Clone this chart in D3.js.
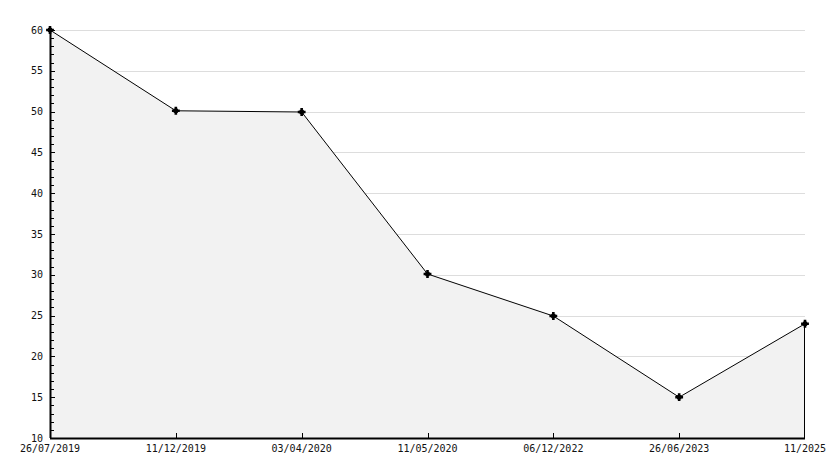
<!DOCTYPE html>
<html>
<head>
<meta charset="utf-8">
<script src="https://cdn.jsdelivr.net/npm/d3@7"></script>
<style>
  body { margin: 0; background: #fff; }
  text { font-family: "DejaVu Sans Mono", monospace; font-size: 10px; fill: #111; }
</style>
</head>
<body>
<div id="chart"></div>
<script>
const dates = ["26/07/2019", "11/12/2019", "03/04/2020", "11/05/2020", "06/12/2022", "26/06/2023", "11/2025"],
    values = [60, 50.1, 49.95, 30.1, 24.95, 15, 24],
    yTicks = [10, 15, 20, 25, 30, 35, 40, 45, 50, 55, 60];

const margin = {top: 30, right: 29, bottom: 30, left: 50},
    width = 834 - margin.left - margin.right,
    height = 468 - margin.top - margin.bottom;

const svg = d3.select("#chart").append("svg")
    .attr("width", 834)
    .attr("height", 468)
    .append("g")
    .attr("transform", "translate(" + margin.left + "," + margin.top + ")");

const x = d3.scalePoint()
    .domain(dates)
    .range([0, width]);

const y = d3.scaleLinear()
    .domain([10, 60])
    .range([height, 0]);

// lignes de grille horizontales
svg.append("g")
    .selectAll("line")
    .data(yTicks.filter(d => d > 10))
    .enter().append("line")
    .attr("x1", 0)
    .attr("x2", width)
    .attr("y1", d => Math.round(y(d)) + 0.5)
    .attr("y2", d => Math.round(y(d)) + 0.5)
    .attr("stroke", "#dddddd");

const pts = dates.map((d, i) => [x(d), y(values[i])]);

svg.append("path")
    .datum(pts)
    .attr("fill", "#f2f2f2")
    .attr("stroke", "none")
    .attr("d", d3.area().x(d => d[0]).y0(height).y1(d => d[1]));

// bord droit de l'aire
svg.append("line")
    .attr("x1", x(dates[dates.length - 1]) - 0.5)
    .attr("x2", x(dates[dates.length - 1]) - 0.5)
    .attr("y1", y(values[values.length - 1]))
    .attr("y2", height)
    .attr("stroke", "#000");

svg.append("path")
    .datum(pts)
    .attr("fill", "none")
    .attr("stroke", "#000")
    .attr("stroke-width", 1)
    .attr("d", d3.line());

// axe Y avec graduations mineures
const minor = d3.range(10, 61, 1);
svg.append("g")
    .selectAll("line")
    .data(minor)
    .enter().append("line")
    .attr("x1", 0)
    .attr("x2", d => d % 5 === 0 ? 5 : 4)
    .attr("y1", d => Math.round(y(d)) + 0.5)
    .attr("y2", d => Math.round(y(d)) + 0.5)
    .attr("stroke", "#000");

svg.append("line")
    .attr("x1", 0.5).attr("x2", 0.5)
    .attr("y1", 0).attr("y2", height)
    .attr("stroke", "#000")
    .attr("stroke-width", 2);

svg.append("g")
    .selectAll("text")
    .data(yTicks)
    .enter().append("text")
    .attr("x", -7)
    .attr("y", d => y(d))
    .attr("dy", "0.35em")
    .attr("text-anchor", "end")
    .text(d => d);

// axe X
svg.append("line")
    .attr("x1", 0).attr("x2", width)
    .attr("y1", height + 0.5).attr("y2", height + 0.5)
    .attr("stroke", "#000")
    .attr("stroke-width", 2);

svg.append("g")
    .selectAll("line")
    .data(dates.slice(1, -1))
    .enter().append("line")
    .attr("x1", d => Math.round(x(d)) + 0.5)
    .attr("x2", d => Math.round(x(d)) + 0.5)
    .attr("y1", height)
    .attr("y2", height - 5)
    .attr("stroke", "#000");

svg.append("g")
    .selectAll("text")
    .data(dates)
    .enter().append("text")
    .attr("x", d => x(d))
    .attr("y", height + 14)
    .attr("text-anchor", "middle")
    .text(d => d);

// marqueurs
const markers = svg.append("g")
    .selectAll("g")
    .data(pts)
    .enter().append("g")
    .attr("transform", d => "translate(" + d[0] + "," + d[1] + ")");

markers.append("path")
    .attr("d", d3.symbol().type(d3.symbolSquare).size(18))
    .attr("fill", "#000");

markers.append("path")
    .attr("d", d3.symbol().type(d3.symbolCross).size(34))
    .attr("fill", "#000");
</script>
</body>
</html>
